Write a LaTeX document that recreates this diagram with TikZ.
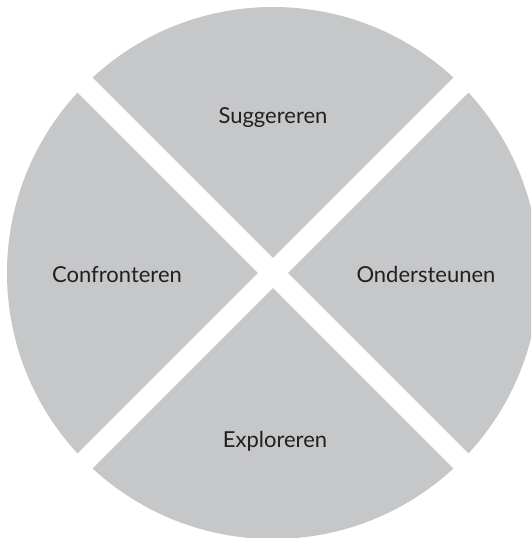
\documentclass[tikz,border=0pt]{standalone}
\usepackage{fontspec}
\setmainfont{Lato}
\usetikzlibrary{calc}
\definecolor{quadgrey}{HTML}{C6C7C9}
\definecolor{quadink}{HTML}{231F20}
\begin{document}
\begin{tikzpicture}[x=1pt, y=-1pt]
    % Define styles for the quarters and the texts
    \tikzstyle{quadtext} = [anchor=base, inner sep=0pt, text=quadink, font=\fontsize{22}{26}\selectfont]
    \tikzstyle{gap} = [line width=21pt, draw=white]
    \clip (0,0) rectangle (531,538);
    % Disc and the white cross
    \coordinate (centre) at (273,273);
    \fill[quadgrey] (centre) circle (266pt);
    \coordinate (nw) at ($(centre)+(-300,-300)$);
    \coordinate (se) at ($(centre)+(300,300)$);
    \coordinate (ne) at ($(centre)+(300,-300)$);
    \coordinate (sw) at ($(centre)+(-300,300)$);
    \draw[gap] (nw) -- (se);
    \draw[gap] (ne) -- (sw);
    % Texts
    \node (suggereren) [quadtext] at (273,123) {Suggereren};
    \node (confronteren) [quadtext] at (117,282) {Confronteren};
    \node (ondersteunen) [quadtext] at (426,282) {Ondersteunen};
    \node (exploreren) [quadtext] at (275,447) {Exploreren};
\end{tikzpicture}
\end{document}
